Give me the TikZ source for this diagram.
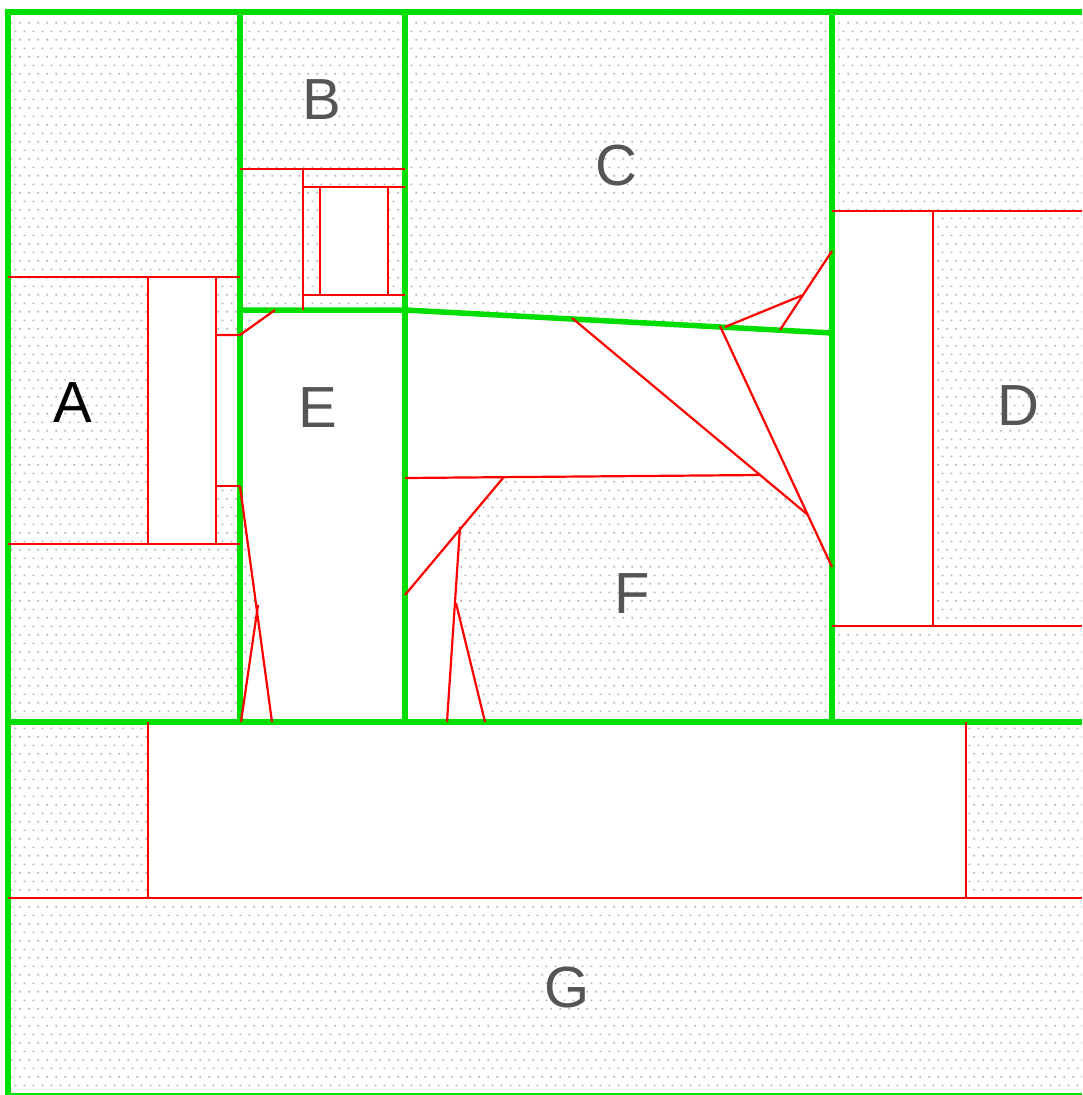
\documentclass[tikz,border=0pt]{standalone}
\usepackage{fontspec}
\setmainfont{Liberation Sans}
\usepackage{xcolor}
\usepackage{tikz}
\usetikzlibrary{patterns}

\definecolor{wallgreen}{RGB}{0,221,0}
\definecolor{labelgray}{RGB}{85,85,85}
\definecolor{dotgray}{RGB}{178,178,178}

\pgfdeclarepatternformonly{roomdots}{\pgfpointorigin}{\pgfpoint{8.67pt}{17.34pt}}{\pgfpoint{8.67pt}{17.34pt}}{%
  \pgfpathrectangle{\pgfpoint{1.5pt}{1.5pt}}{\pgfpoint{1.7pt}{1.7pt}}%
  \pgfpathrectangle{\pgfpoint{5.83pt}{10.17pt}}{\pgfpoint{1.7pt}{1.7pt}}%
  \pgfusepath{fill}}

\begin{document}
\begin{tikzpicture}[
  x=1pt, y=-1pt,
  room/.style={pattern=roomdots, pattern color=dotgray},
  hole/.style={fill=white},
  wall/.style={draw=wallgreen, line width=5.5pt},
  cut/.style={draw=red, line width=2.2pt},
  tag/.style={font=\fontsize{58}{60}\selectfont, text=labelgray, inner sep=0pt}
]
\useasboundingbox (0,0) rectangle (1082,1095);
\fill[room] (8,12) rectangle (1082,1095);

\fill[hole] (148,277) -- (216,277) -- (216,335) -- (240,335) -- (275,310) -- (405,310) -- (405,722)
  -- (241,722) -- (258,605) -- (240,486) -- (216,486) -- (216,544) -- (148,544) -- cycle;
\fill[hole] (405,310) -- (832,333) -- (832,567) -- (808,515) -- (760,475) -- (503,478) -- (460,527)
  -- (456,603) -- (485,722) -- (405,722) -- cycle;
\fill[hole] (725,327) -- (803,295) -- (832,251) -- (832,333) -- cycle;
\fill[hole] (320,187) rectangle (388,295);
\fill[hole] (832,211) rectangle (933,626);
\fill[hole] (148,722) rectangle (966,898);

\draw[wall] (8,1095) -- (8,12) -- (1082,12);
\draw[wall] (240,12) -- (240,722);
\draw[wall] (405,12) -- (405,722);
\draw[wall] (832,12) -- (832,722);
\draw[wall] (240,310) -- (405,310) -- (832,333);
\draw[wall] (8,722) -- (1082,722);
\draw[draw=wallgreen, line width=2pt] (8,1094) -- (1082,1094);

\draw[cut] (8,277) -- (240,277);
\draw[cut] (8,544) -- (240,544);
\draw[cut] (148,277) -- (148,544);
\draw[cut] (216,277) -- (216,544);
\draw[cut] (216,335) -- (240,335) -- (275,310);
\draw[cut] (216,486) -- (240,486);

\draw[cut] (240,169) -- (405,169);
\draw[cut] (303,169) -- (303,310);
\draw[cut] (303,187) -- (405,187);
\draw[cut] (303,295) -- (405,295);
\draw[cut] (320,187) -- (320,295);
\draw[cut] (388,187) -- (388,295);

\draw[cut] (240,486) -- (272,722);
\draw[cut] (258,605) -- (241,722);

\draw[cut] (572,318) -- (808,515);
\draw[cut] (720,326) -- (832,567);
\draw[cut] (725,327) -- (803,295) -- (832,251);
\draw[cut] (803,295) -- (780,330);
\draw[cut] (405,478) -- (760,475);
\draw[cut] (405,595) -- (503,478);
\draw[cut] (460,527) -- (447,722);
\draw[cut] (456,603) -- (485,722);

\draw[cut] (832,211) -- (1082,211);
\draw[cut] (933,211) -- (933,626);
\draw[cut] (832,626) -- (1082,626);

\draw[cut] (148,722) -- (148,898);
\draw[cut] (966,722) -- (966,898);
\draw[cut] (8,898) -- (1082,898);

\node[tag, text=black] (labA) at (73,403) {A};
\node[tag] (labB) at (322,100) {B};
\node[tag] (labC) at (616,166) {C};
\node[tag] (labD) at (1018,406) {D};
\node[tag] (labE) at (318,408) {E};
\node[tag] (labF) at (632,594) {F};
\node[tag] (labG) at (567,988) {G};
\end{tikzpicture}
\end{document}
